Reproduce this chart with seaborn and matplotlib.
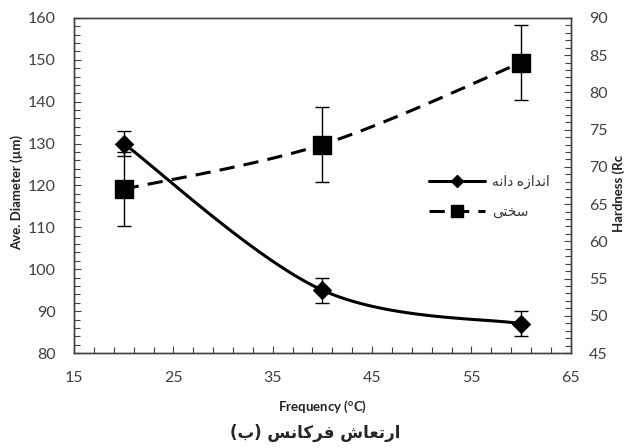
import numpy as np
import pandas as pd
import matplotlib
matplotlib.use("Agg")
import matplotlib.pyplot as plt
import seaborn as sns
from matplotlib.lines import Line2D
from matplotlib.ticker import MultipleLocator

# ---------------- data ----------------
frequency = [20, 40, 60]
diameter = [130, 95, 87]
diameter_err = [3, 3, 3]
hardness = [67, 73, 84]
hardness_err = [5, 5, 5]

# Persian labels in visual (left-to-right) order, Arabic presentation forms
label_diameter = "\uFEEA\uFEE7\uFE8D\uFEA9 \uFEE9\uFEAF\uFE8D\uFEAA\uFEE7\uFE8D"   # اندازه دانه
label_hardness = "\uFEF0\uFE98\uFEA8\uFEB3"                                       # سختی
caption = ("(\uFE8F) " + "\uFEB2\uFEE7\uFE8E\uFB90\uFEAE\uFED3" + " " +
           "\uFEB5\uFE8E\uFECC\uFE97\uFEAD\uFE8D")                                 # (ب) فرکانس ارتعاش

x_label = r"Frequency ($\mathregular{^{o}}$C)"
y_label = "Ave. Diameter (\u00b5m)"
y2_label = "Hardness (Rc"

sns.set_theme(style="white")
plt.rcParams["font.family"] = ["Lato", "DejaVu Sans"]
plt.rcParams["mathtext.fontset"] = "custom"
plt.rcParams["mathtext.rm"] = "Lato"
plt.rcParams["mathtext.bf"] = "Lato:bold"


def smooth(xs, ys, n=60, t=1/6):
    """Excel-like smoothed line through the given points (cubic Bezier)."""
    P = np.column_stack([xs, ys]).astype(float)
    out = []
    for i in range(len(P) - 1):
        p0 = P[i - 1] if i > 0 else P[i]
        p1, p2 = P[i], P[i + 1]
        p3 = P[i + 2] if i + 2 < len(P) else P[i + 1]
        c1 = p1 + (p2 - p0) * t
        c2 = p2 - (p3 - p1) * t
        s = np.linspace(0, 1, n)[:, None]
        seg = (1 - s) ** 3 * p1 + 3 * (1 - s) ** 2 * s * c1 + 3 * (1 - s) * s ** 2 * c2 + s ** 3 * p2
        out.append(seg if i == 0 else seg[1:])
    seg = np.vstack(out)
    return seg[:, 0], seg[:, 1]


fig = plt.figure(figsize=(6.3, 4.48), dpi=100)
ax = fig.add_axes([0.1175, 0.212, 0.7885, 0.748])
ax2 = ax.twinx()

# diameter
sx, sy = smooth(frequency, diameter)
sns.lineplot(x=sx, y=sy, ax=ax, color="black", linewidth=2.2, sort=False, estimator=None)
ax.errorbar(frequency, diameter, yerr=diameter_err, fmt="none", ecolor="black",
            elinewidth=1.0, capsize=5, capthick=1.0, zorder=3)
sns.scatterplot(x=frequency, y=diameter, ax=ax, marker="D", s=85, color="black",
                edgecolor="black", zorder=4)

# hardness
hx, hy = smooth(frequency, hardness)
sns.lineplot(x=hx, y=hy, ax=ax2, color="black", linewidth=2.2, sort=False, estimator=None)
ax2.lines[-1].set_dashes([5, 3])
ax2.errorbar(frequency, hardness, yerr=hardness_err, fmt="none", ecolor="black",
             elinewidth=1.0, capsize=5, capthick=1.0, zorder=3)
sns.scatterplot(x=frequency, y=hardness, ax=ax2, marker="s", s=150, color="black",
                edgecolor="black", zorder=4)

ax.set_xlim(15, 65)
ax.set_ylim(80, 160)
ax2.set_ylim(45, 90)
ax.xaxis.set_major_locator(MultipleLocator(10, offset=5))
ax.xaxis.set_minor_locator(MultipleLocator(2, offset=1))
ax.yaxis.set_major_locator(MultipleLocator(10))
ax.yaxis.set_minor_locator(MultipleLocator(2))
ax2.yaxis.set_major_locator(MultipleLocator(5))
ax2.yaxis.set_minor_locator(MultipleLocator(1))

tick_color = "#404040"
for a in (ax, ax2):
    for sp in a.spines.values():
        sp.set_color("#404040")
        sp.set_linewidth(1.0)
ax.tick_params(axis="x", which="both", direction="in", bottom=True, length=5,
               width=0.8, color=tick_color, labelsize=11.5, labelcolor=tick_color, pad=13)
ax.tick_params(axis="x", which="minor", length=4)
ax.tick_params(axis="y", which="both", direction="in", left=True, length=5,
               width=0.8, color=tick_color, labelsize=11.5, labelcolor=tick_color, pad=13)
ax.tick_params(axis="y", which="minor", length=4)
ax2.tick_params(axis="y", which="both", direction="in", right=True, length=5,
                width=0.8, color=tick_color, labelsize=11.5, labelcolor=tick_color, pad=13)
ax2.tick_params(axis="y", which="minor", length=4)

ax.set_xlabel(x_label, fontsize=9.5, fontweight="bold", color="#222222")
ax.xaxis.set_label_coords(0.5, -0.137)
ax.set_ylabel(y_label, fontsize=9.5, fontweight="bold", color="#222222")
ax.yaxis.set_label_coords(-0.103, 0.48)
ax2.set_ylabel(y2_label, fontsize=9.5, fontweight="bold", color="#222222")
ax2.yaxis.set_label_coords(1.084, 0.475)

handles = [
    Line2D([], [], color="black", linewidth=2.2, marker="D", markersize=6),
    Line2D([], [], color="black", linewidth=2.2, dashes=[5, 3], marker="s", markersize=9),
]
leg = ax2.legend(handles, [label_diameter, label_hardness], loc="upper left",
                 bbox_to_anchor=(0.69, 0.57), frameon=False, fontsize=10,
                 handlelength=4.0, labelspacing=1.2, handletextpad=0.5)
for t in leg.get_texts():
    t.set_color("#333333")

fig.text(0.5, 0.033, caption, ha="center", va="center", fontsize=12,
         fontweight="bold", family=["DejaVu Sans"])

fig.savefig("out.png", dpi=100)
